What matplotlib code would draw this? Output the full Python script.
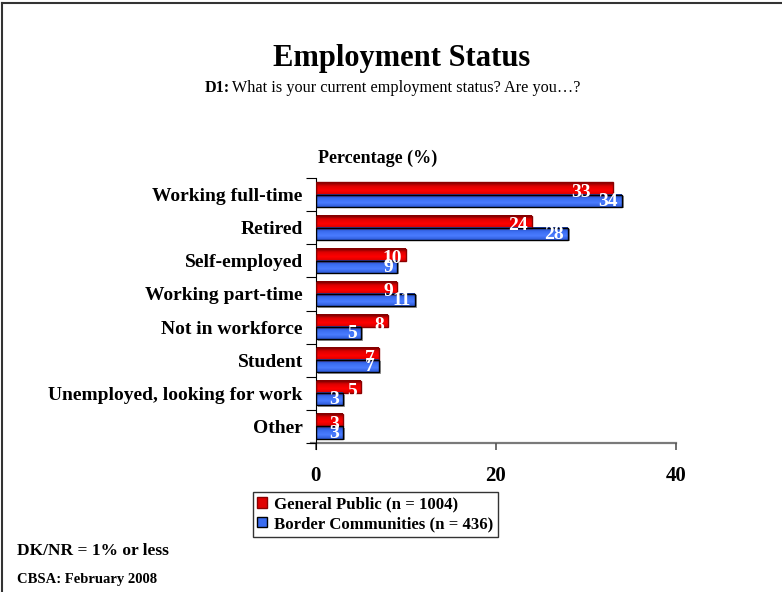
import numpy as np
import matplotlib.pyplot as plt
from matplotlib.patches import Rectangle
from matplotlib.lines import Line2D
from matplotlib.colors import LinearSegmentedColormap

plt.rcParams['font.family'] = ['Liberation Serif', 'DejaVu Serif']

categories = ['Working full-time', 'Retired', 'Self-employed', 'Working part-time',
              'Not in workforce', 'Student', 'Unemployed, looking for work', 'Other']
general_public = [33, 24, 10, 9, 8, 7, 5, 3]
border_communities = [34, 28, 9, 11, 5, 7, 3, 3]
series_names = ['General Public (n = 1004)', 'Border Communities (n = 436)']
x_ticks = [0, 20, 40]

red_cmap = LinearSegmentedColormap.from_list('r', ['#7a0000', '#e00000', '#ff0000', '#d40000'])
blue_cmap = LinearSegmentedColormap.from_list('b', ['#1c3fa8', '#3a6cf0', '#4a7cff', '#2d5ad8'])

fig = plt.figure(figsize=(7.82, 5.92), dpi=100)
ax = fig.add_axes([0.404, 0.252, 0.46, 0.447])

h = 0.37
grad = np.linspace(0, 1, 64).reshape(-1, 1)


def shaded_bar(x, y0, y1, cmap, edge):
    # vertical gradient clipped to the bar
    ax.imshow(grad, cmap=cmap, aspect='auto', extent=[0, x, y1, y0],
              zorder=2, interpolation='bilinear')
    ax.add_patch(Rectangle((0, y0), x, y1 - y0, fill=False, ec=edge, lw=1.0, zorder=3))


for i, (g, b) in enumerate(zip(general_public, border_communities)):
    shaded_bar(g, i - h, i, red_cmap, '#8a0000')
    # grey drop shadow under blue bar
    ax.add_patch(Rectangle((0.25, i + 0.04), b, h, fc='#9a9a9a', ec='none', zorder=1.5))
    shaded_bar(b, i, i + h, blue_cmap, 'black')
    # nudge the red label left when the blue one sits right under it
    shift = 2.0 if 0 < b - g <= 1 else 0.0
    ax.text(g - 0.45 - shift, i - 0.06, str(g), ha='right', va='center', color='white',
            fontsize=14, fontweight='bold', zorder=4)
    ax.text(b - 0.45, i + h * 0.55, str(b), ha='right', va='center', color='white',
            fontsize=14, fontweight='bold', zorder=4)

ax.set_xlim(0, 40)
ax.set_ylim(len(categories) - 0.5, -0.5)

for s in ['top', 'right', 'bottom']:
    ax.spines[s].set_visible(False)
ax.spines['left'].set_color('black')
ax.spines['left'].set_bounds(len(categories) - 0.5 + 0.2, -0.5)
# grey x axis line, running a little left of zero
ax.add_line(Line2D([-0.55, 40], [len(categories) - 0.5] * 2, color='#7a7a7a', lw=1.6,
                   clip_on=False, zorder=1))

ax.set_xticks(x_ticks)
ax.set_xticklabels([str(t) for t in x_ticks], fontsize=15, fontweight='bold')
ax.tick_params(axis='x', direction='out', length=5, pad=12, color='#555555', width=1.2)

ax.set_yticks(np.arange(len(categories) + 1) - 0.5, minor=False)
ax.set_yticklabels([])
ax.set_yticks(np.arange(len(categories)), minor=True)
ax.set_yticklabels(categories, minor=True, fontsize=14, fontweight='bold')
ax.tick_params(axis='y', which='major', direction='out', length=7)
ax.tick_params(axis='y', which='minor', length=0, pad=9.5)

ax.text(0.2, -0.85, 'Percentage (%)', fontsize=13, fontweight='bold', ha='left', va='bottom')

fig.text(0.513, 0.901, 'Employment Status', ha='center', va='center',
         fontsize=22, fontweight='bold')
fig.text(0.262, 0.851, 'D1:', ha='left', va='center', fontsize=11.7, fontweight='bold')
fig.text(0.262 + 0.03, 0.851, ' What is your current employment status? Are you…?',
         ha='left', va='center', fontsize=11.7)

handles = [Rectangle((0, 0), 1, 1, fc='#e00000', ec='#8a0000'),
           Rectangle((0, 0), 1, 1, fc='#3a6cf0', ec='black')]
leg = fig.legend(handles, series_names, loc='upper left', bbox_to_anchor=(0.323, 0.169),
                 frameon=True, fancybox=False, edgecolor='black', handlelength=0.6,
                 handleheight=0.6, handletextpad=0.4, borderpad=0.28, labelspacing=0.2,
                 borderaxespad=0, prop={'weight': 'bold', 'size': 12.1})
leg.get_frame().set_linewidth(1.0)

fig.text(0.022, 0.069, 'DK/NR = 1% or less', fontsize=12.5, fontweight='bold', va='center')
fig.text(0.022, 0.021, 'CBSA: February 2008', fontsize=10.5, fontweight='bold', va='center')

# page frame along the top and left edges
fig.add_artist(Line2D([0.003, 0.003], [0, 0.995], transform=fig.transFigure,
                      color='#333333', lw=1.5))
fig.add_artist(Line2D([0.003, 1], [0.995, 0.995], transform=fig.transFigure,
                      color='#333333', lw=1.5))

fig.savefig('out.png', dpi=100)
